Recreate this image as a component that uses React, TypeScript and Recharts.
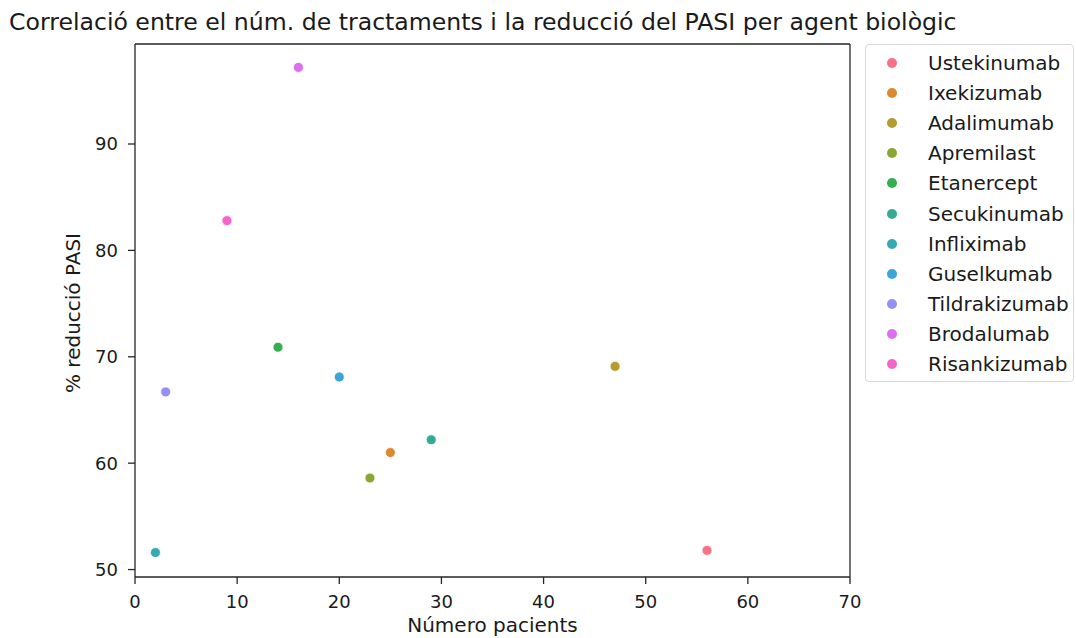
import React from "react";
import { ScatterChart, Scatter, XAxis, YAxis, ReferenceLine } from "recharts";

// Agents in legend order, with patient counts and PASI reduction (%)
const agents = [
  "Ustekinumab",
  "Ixekizumab",
  "Adalimumab",
  "Apremilast",
  "Etanercept",
  "Secukinumab",
  "Infliximab",
  "Guselkumab",
  "Tildrakizumab",
  "Brodalumab",
  "Risankizumab",
];
const patients = [56, 25, 47, 23, 14, 29, 2, 20, 3, 16, 9];
const pasiReduction = [51.8, 61.0, 69.1, 58.6, 70.9, 62.2, 51.6, 68.1, 66.7, 97.2, 82.8];

const colors = [
  "#f77189",
  "#dc8932",
  "#b39c31",
  "#8aa831",
  "#32b14e",
  "#35ac92",
  "#37a9b0",
  "#3ba5d8",
  "#948ff4",
  "#dd6ef3",
  "#f565c8",
];

const xTicks = [0, 10, 20, 30, 40, 50, 60, 70];
const yTicks = [50, 60, 70, 80, 90];
const xDomain: [number, number] = [0, 70];
const yDomain: [number, number] = [49.3, 99.4];

const FONT = "DejaVu Sans, sans-serif";
const INK = "#1a1a1a";
const SPINE = "#262626";

const Dot = (props: any) => {
  const { cx, cy, fill } = props;
  if (cx == null || cy == null) return null;
  return <circle cx={cx} cy={cy} r={5} fill={fill} stroke="#fff" strokeWidth={0.8} />;
};

const LegendBox = () => (
  <div
    style={{
      position: "absolute",
      left: 865,
      top: 44,
      width: 209,
      height: 338,
      boxSizing: "border-box",
      border: "1px solid #d9d9d9",
      borderRadius: 4,
      background: "#fff",
      paddingTop: 3,
      fontFamily: FONT,
      fontSize: 20,
      color: INK,
    }}
  >
    {agents.map((name, i) => (
      <div key={name} style={{ display: "flex", alignItems: "center", height: 30.1 }}>
        <svg width={12} height={12} style={{ marginLeft: 20, marginRight: 30 }}>
          <circle cx={6} cy={6} r={5} fill={colors[i]} />
        </svg>
        <span>{name}</span>
      </div>
    ))}
  </div>
);

export default function App() {
  const series = agents.map((name, i) => ({
    name,
    color: colors[i],
    data: [{ x: patients[i], y: pasiReduction[i] }],
  }));

  return (
    <div style={{ position: "absolute", left: 0, top: 0, width: 1076, height: 638, background: "#fff", overflow: "hidden" }}>
      <ScatterChart
        width={1076}
        height={638}
        margin={{ top: 44, right: 226, left: 0, bottom: 0 }}
      >
        <XAxis
          type="number"
          dataKey="x"
          domain={xDomain}
          ticks={xTicks}
          height={61}
          allowDataOverflow
          stroke={SPINE}
          strokeWidth={1.3}
          tickLine={{ stroke: SPINE }}
          tickSize={7}
          tickMargin={11}
          tick={{ fill: INK, fontSize: 18, fontFamily: FONT }}
        />
        <YAxis
          type="number"
          dataKey="y"
          domain={yDomain}
          ticks={yTicks}
          width={135}
          allowDataOverflow
          stroke={SPINE}
          strokeWidth={1.3}
          tickLine={{ stroke: SPINE }}
          tickSize={7}
          tickMargin={10}
          tick={{ fill: INK, fontSize: 18, fontFamily: FONT }}
        />
        {/* top and right spines */}
        <ReferenceLine y={yDomain[1]} stroke={SPINE} strokeWidth={1.3} />
        <ReferenceLine x={xDomain[1]} stroke={SPINE} strokeWidth={1.3} />
        {series.map((s) => (
          <Scatter
            key={s.name}
            name={s.name}
            data={s.data}
            fill={s.color}
            shape={<Dot />}
            isAnimationActive={false}
          />
        ))}
      </ScatterChart>
      <svg
        width={1076}
        height={638}
        style={{ position: "absolute", left: 0, top: 0, pointerEvents: "none" }}
        fontFamily={FONT}
        fill={INK}
      >
        <text x={9} y={30} fontSize={23.6}>
          Correlació entre el núm. de tractaments i la reducció del PASI per agent biològic
        </text>
        <text x={492.5} y={632} fontSize={20} textAnchor="middle">
          Número pacients
        </text>
        <text x={80} y={313} fontSize={20} textAnchor="middle" transform="rotate(-90, 80, 313)">
          % reducció PASI
        </text>
      </svg>
      <LegendBox />
    </div>
  );
}
